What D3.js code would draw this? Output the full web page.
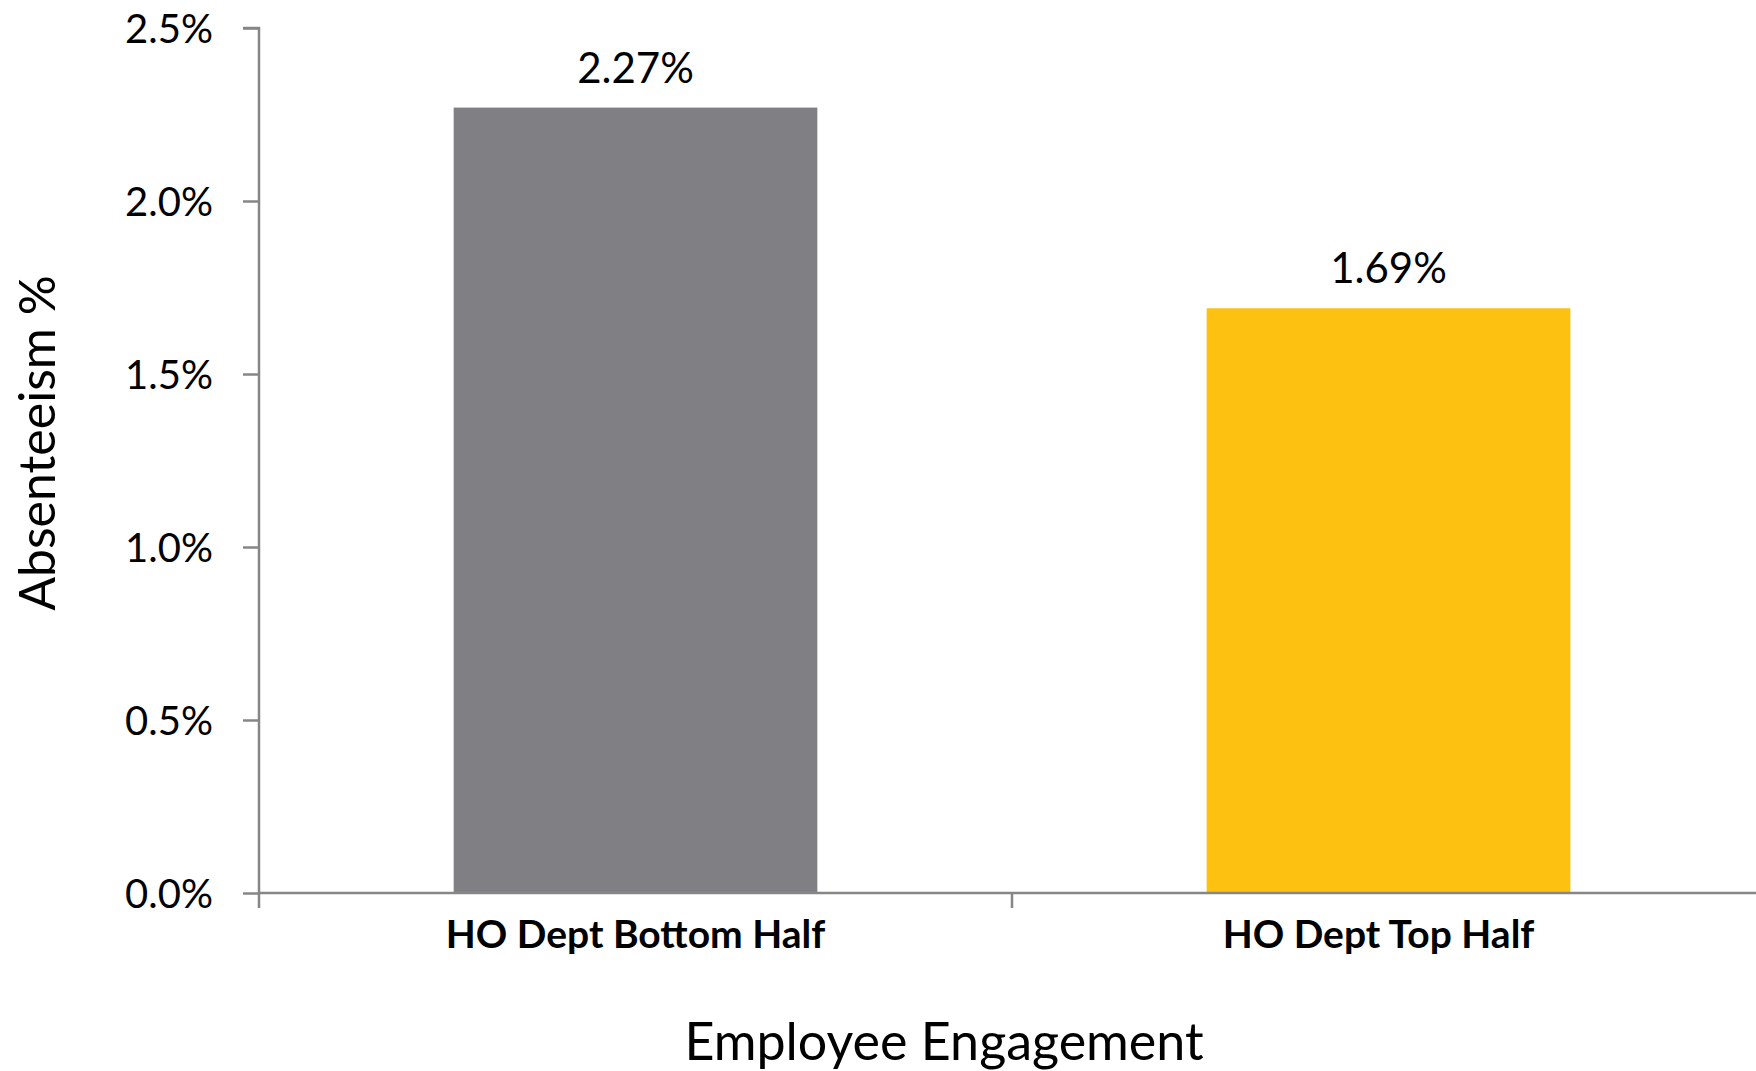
<!DOCTYPE html>
<html>
<head>
<meta charset="utf-8">
<script src="https://cdnjs.cloudflare.com/ajax/libs/d3/7.8.5/d3.min.js"></script>
<style>
    body { margin: 0; background: #fff; }
    text { font-family: Lato, "Open Sans", sans-serif; fill: #000; }
    .axis path, .axis line { stroke: #868686; stroke-width: 2.5px; }
    .axis text { font-size: 40px; }
    .cat-label { font-size: 39px; font-weight: bold; }
</style>
</head>
<body>
<div id="chart-area"></div>
<script>
// data
var categories = ["HO Dept Bottom Half", "HO Dept Top Half"];
var absenteeism = [2.27, 1.69];
var barColors = ["#807f83", "#fdc112"];
var yTicks = [0, 0.5, 1.0, 1.5, 2.0, 2.5];

BarChart = function(_parentElement) {
    this.parentElement = _parentElement;
    this.initVis();
};

BarChart.prototype.initVis = function() {
    var vis = this;

    vis.margin = { top: 28, right: -9, bottom: 178, left: 259 };
    vis.width = 1756 - vis.margin.left - vis.margin.right;
    vis.height = 1071 - vis.margin.top - vis.margin.bottom;

    vis.root = d3.select("#" + vis.parentElement).append("svg")
        .attr("width", 1756)
        .attr("height", 1071);

    vis.svg = vis.root.append("g")
        .attr("transform", "translate(" + vis.margin.left + "," + vis.margin.top + ")");

    vis.x = d3.scaleBand().domain(categories).range([0, vis.width]).paddingInner(0.517).paddingOuter(0.2585);
    vis.y = d3.scaleLinear().domain([0, 2.5]).range([vis.height, 0]);

    vis.displayData = categories.map(function(c, i) {
        return { cat: c, value: absenteeism[i], color: barColors[i] };
    });

    vis.updateVis();
};

BarChart.prototype.updateVis = function() {
    var vis = this;

    // bars
    vis.svg.selectAll(".bar")
        .data(vis.displayData)
        .enter().append("rect")
        .attr("class", "bar")
        .attr("x", d => vis.x(d.cat))
        .attr("width", vis.x.bandwidth())
        .attr("y", d => vis.y(d.value))
        .attr("height", d => vis.height - vis.y(d.value))
        .attr("fill", d => d.color);

    // value labels
    vis.svg.selectAll(".value-label")
        .data(vis.displayData)
        .enter().append("text")
        .attr("class", "value-label")
        .attr("x", d => vis.x(d.cat) + vis.x.bandwidth() / 2)
        .attr("y", d => vis.y(d.value) - 25)
        .attr("text-anchor", "middle")
        .style("font-size", "42px")
        .text(d => d.value.toFixed(2) + "%");

    // y axis
    var yAxis = vis.svg.append("g")
        .attr("class", "axis y-axis")
        .call(d3.axisLeft(vis.y).tickValues(yTicks).tickSize(16).tickPadding(30)
            .tickFormat(d => d.toFixed(1) + "%"));
    yAxis.select(".domain").attr("d", "M-16,0H0V" + vis.height);
    yAxis.selectAll("text").attr("dy", "0.35em");

    // x axis: ticks between categories
    var step = vis.x.step();
    var bounds = [0, step, 2 * step];
    var xAxis = vis.svg.append("g")
        .attr("class", "axis x-axis")
        .attr("transform", "translate(0," + vis.height + ")");
    xAxis.append("path")
        .attr("d", "M0,0H" + vis.width)
        .attr("fill", "none");
    xAxis.selectAll(".tick-line")
        .data(bounds)
        .enter().append("line")
        .attr("x1", d => d).attr("x2", d => d)
        .attr("y1", 0).attr("y2", 15);

    vis.svg.selectAll(".cat-label")
        .data(vis.displayData)
        .enter().append("text")
        .attr("class", "cat-label")
        .attr("x", (d, i) => vis.x(d.cat) + vis.x.bandwidth() / 2 - i * 10)
        .attr("y", vis.height + 55)
        .attr("text-anchor", "middle")
        .text(d => d.cat);

    // axis titles
    vis.root.append("text")
        .attr("transform", "translate(55," + 443 + ") rotate(-90)")
        .attr("text-anchor", "middle")
        .style("font-size", "50px")
        .text("Absenteeism %");

    vis.root.append("text")
        .attr("x", 944)
        .attr("y", 1060)
        .attr("text-anchor", "middle")
        .style("font-size", "52px")
        .text("Employee Engagement");
};

var chart = new BarChart("chart-area");
</script>
</body>
</html>
